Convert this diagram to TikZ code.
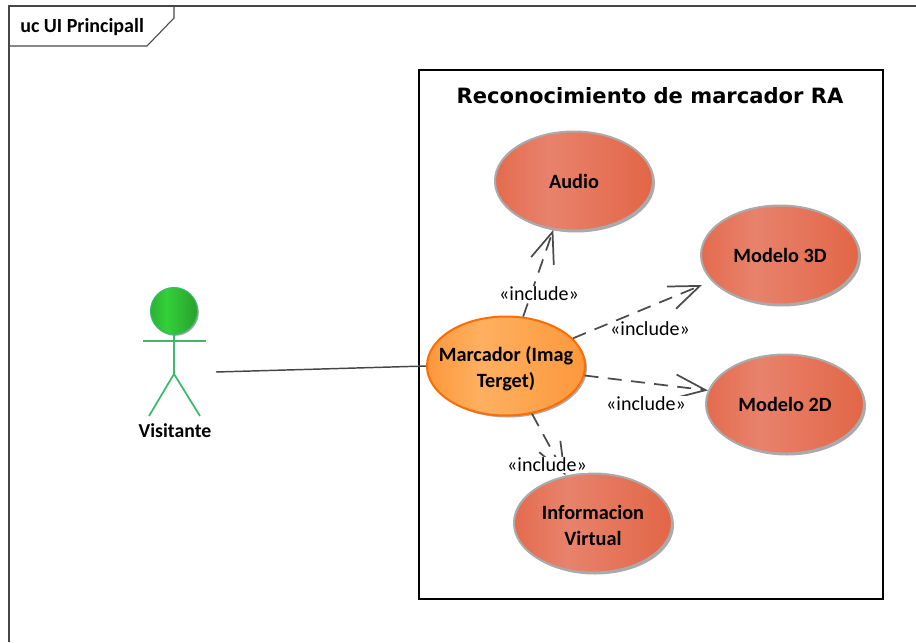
\documentclass[tikz,border=0pt]{standalone}
\usepackage{fontspec}
\setmainfont{Carlito}
\newfontfamily\titlefont{DejaVu Sans}
\usepackage{xcolor}
\usetikzlibrary{shapes.geometric,arrows.meta,shadows,positioning}
\definecolor{framegray}{RGB}{70,70,70}
\definecolor{actorgreen}{RGB}{60,185,110}
\definecolor{edgegray}{RGB}{170,170,170}
\definecolor{inclgray}{RGB}{75,75,75}
\definecolor{casea}{RGB}{228,107,78}
\definecolor{caseb}{RGB}{232,130,108}
\definecolor{casec}{RGB}{226,102,70}
\definecolor{orangea}{RGB}{253,152,60}
\definecolor{orangeb}{RGB}{254,176,96}
\definecolor{greena}{RGB}{44,178,50}
\definecolor{greenb}{RGB}{52,208,58}
\definecolor{greenc}{RGB}{40,160,45}
\pgfdeclarehorizontalshading{casered}{100bp}{color(0bp)=(casea);color(25bp)=(casea);color(42bp)=(caseb);color(75bp)=(casec);color(100bp)=(casec)}
\pgfdeclarehorizontalshading{caseorange}{100bp}{color(0bp)=(orangea);color(25bp)=(orangea);color(42bp)=(orangeb);color(75bp)=(orangea);color(100bp)=(orangea)}
\pgfdeclarehorizontalshading{actorshade}{100bp}{color(0bp)=(greena);color(25bp)=(greena);color(42bp)=(greenb);color(75bp)=(greenc);color(100bp)=(greenc)}
\newcommand{\bajalinea}{\rule{0pt}{15pt}}
\tikzset{
  usecase/.style={ellipse,shading=casered,draw=edgegray,line width=1.5pt,minimum width=158*0.75pt,minimum height=99*0.75pt,
    inner sep=0pt,align=center,font=\fontsize{15.2}{19.5}\selectfont\bfseries,
    general shadow={shadow xshift=1.5pt,shadow yshift=-1.5pt,fill=edgegray}},
  mainusecase/.style={usecase,shading=caseorange,draw=orange!85!red,inner xsep=-14pt},
  incl/.style={dash pattern=on 10.5pt off 7pt,draw=inclgray,line width=1.3pt,-{Straight Barb[length=23pt,width=18pt,line width=1.3pt]}},
  incllabel/.style={fill=white,inner sep=1pt,font=\fontsize{15}{17}\selectfont},
  limb/.style={draw=actorgreen,line width=1.3pt}
}
\begin{document}
\begin{tikzpicture}[x=0.75pt,y=0.75pt,yscale=-1,xscale=1]
\useasboundingbox (0,0) rectangle (916,642);

%Frame
\draw [framegray,line width=0.8pt] (916,6) -- (9,6) -- (9,642) ;
\draw [framegray,line width=0.8pt] (9,46) -- (147,46) -- (174,18) -- (174,6) ;
\node [anchor=west,inner sep=0pt,font=\fontsize{15}{17}\selectfont\bfseries] (framelabel) at (20,27) {uc UI Principall};

%System boundary
\node [draw=black,line width=1pt,minimum width=464*0.75pt,minimum height=529*0.75pt,inner sep=0pt] (sistema) at (651,334.5) {};
\node [font=\titlefont\fontsize{15.8}{18}\selectfont\bfseries] (titulo) at (650,96) {Reconocimiento de marcador RA};

%Use cases
\node [usecase] (audio) at (574,181) {Audio};
\node [usecase] (modelotres) at (780,255) {Modelo 3D};
\node [usecase] (modelodos) at (785,404) {Modelo 2D};
\node [usecase] (informacion) at (593,523) {\bajalinea Informacion\\Virtual};
\node [mainusecase] (marcador) at (506,366) {\bajalinea Marcador (Imag\\Terget)};

%Actor
\node [circle,shading=actorshade,draw=actorgreen,line width=0.8pt,minimum size=47*0.75pt,inner sep=0pt,
  general shadow={shadow xshift=1pt,shadow yshift=-1pt,fill=edgegray}] (cabeza) at (174,311) {};
\coordinate (cadera) at (174,374);
\coordinate (hombro) at (174,341);
\draw [limb] (cabeza) -- (cadera) ;
\draw [limb] (143,341) -- (hombro) -- (206,341) ;
\draw [limb] (149,416) -- (cadera) -- (200,416) ;
\node [font=\fontsize{14.8}{17}\selectfont\bfseries] (visitante) at (175,431) {Visitante};

%Connectors
\coordinate (actorport) at (216,372);
\coordinate (puntatres) at (702,285);
\draw [framegray,line width=1.1pt] (actorport) -- (marcador.west) ;
\draw [incl] (marcador) -- (audio.247) ;
\draw [incl] (marcador) -- (puntatres) ;
\draw [incl] (marcador) -- (modelodos.170) ;
\draw [incl] (marcador) -- (informacion.120) ;

%Labels
\node [incllabel] (inclaudio) at (539,294) {«include»};
\node [incllabel] (incltres) at (650,329) {«include»};
\node [incllabel] (incldos) at (646,404) {«include»};
\node [incllabel] (inclinfo) at (547,465) {«include»};
\end{tikzpicture}
\end{document}
